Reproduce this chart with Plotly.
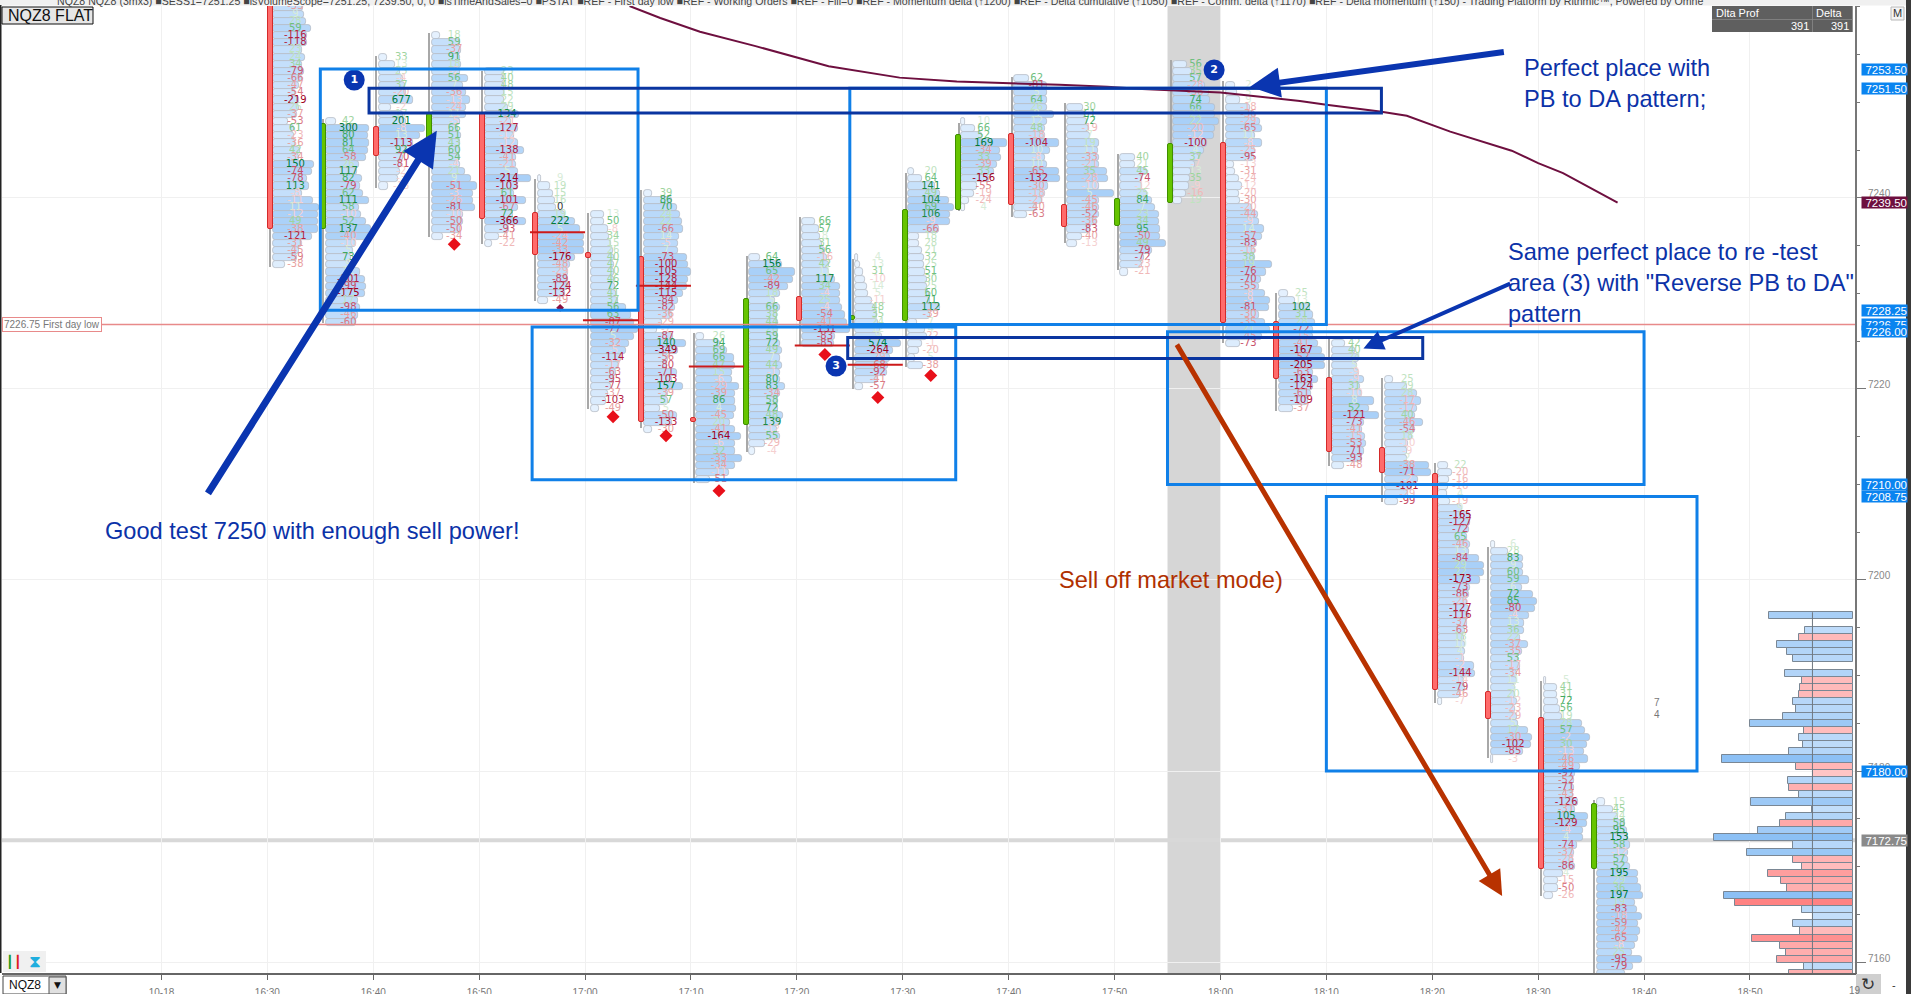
import plotly.graph_objects as go

# footprint values, one pair of lists per 5 minute candle, rows from top to bottom
d1630 = [-33, 9, 28, 59, -116, -118, 23, 24, 34, -79, -66, -47, -54, -219, 26, -37, -53, 61, -23, -36, 42, -34, 150, -74, -78, 113, -8, -11, 11, -12, 49, -38, -121, -31, -45, -59, -38]
v1630 = [30, 31, 33, 38, 34, 34, 29, 32, 29, 31, 29, 26, 22, 26, 26, 24, 15, 21, 21, 22, 27, 26, 41, 39, 34, 36, 29, 40, 46, 45, 45, 45, 39, 29, 26, 24, 12]
d1635 = [42, 300, 80, 81, 64, -58, 26, 117, 82, -79, 62, 111, 58, -10, 52, 137, -40, -10, 5, 73, 9, 12, -101, -99, -175, 17, -98, -46, -60]
v1635 = [10, 43, 42, 43, 42, 40, 33, 31, 36, 34, 37, 43, 33, 35, 40, 45, 44, 30, 27, 25, 24, 34, 39, 40, 39, 32, 34, 32, 30]
d1640 = [33, 13, 25, -4, 37, -20, 677, -2, 17, 201, -8, 13, -113, 92, -70, -81, -2, -3, -13]
v1640 = [8, 16, 21, 24, 26, 27, 34, 12, 24, 27, 46, 41, 34, 27, 24, 22, 21, 19, 9]
d1645 = [18, 59, -37, 91, 18, -2, 56, 7, -36, -13, -24, 11, -5, 66, 51, 43, 60, 54, -4, 21, 9, -51, -3, -26, -81, -10, -50, -50, -34]
v1645 = [8, 28, 29, 28, 29, 28, 36, 31, 34, 38, 34, 34, 28, 26, 29, 28, 28, 28, 28, 33, 39, 45, 41, 41, 43, 31, 31, 28, 11]
d1650 = [23, 40, 48, 15, 22, 29, 134, -21, -127, -12, -12, -138, -41, -21, 5, -214, -103, 61, -101, -67, 72, -366, -93, -41, -22]
v1650 = [19, 19, 19, 19, 19, 23, 34, 26, 33, 29, 33, 39, 31, 31, 33, 46, 33, 29, 41, 33, 28, 41, 24, 14, 7]
d1655 = [9, 19, 15, 16, 0, 19, 222, 5, -24, -42, -33, -176, -48, -29, -89, -124, -132, -49]
v1655 = [3, 12, 15, 17, 18, 27, 37, 42, 46, 46, 46, 37, 32, 30, 30, 30, 27, 10]
d1700 = [13, 50, -8, 34, 15, 26, 40, 47, 40, 46, 72, 41, 37, 56, 63, -87, -77, 5, -32, -5, -114, -17, -63, -95, -77, -37, -103, -49]
v1700 = [13, 13, 17, 18, 20, 22, 23, 23, 23, 23, 24, 25, 27, 35, 40, 43, 47, 43, 38, 35, 30, 28, 25, 23, 20, 17, 15, 8]
d1705 = [39, 86, 70, 24, 22, -66, 14, -5, 7, -73, -100, -105, -128, -144, -115, -84, -82, -36, -29, -7, -87, 140, -349, -56, -80, -71, -103, 157, -39, 57, 5, -50, -133, -30]
v1705 = [8, 28, 33, 36, 38, 39, 35, 34, 34, 43, 44, 47, 44, 43, 39, 34, 31, 28, 18, 13, 29, 42, 34, 24, 23, 33, 28, 39, 24, 24, 16, 33, 28, 8]
d1710 = [26, 94, 69, 66, 47, 15, -6, -29, -39, 86, 4, -45, 20, -41, -164, -6, 32, -33, -34, -11, -51]
v1710 = [8, 24, 31, 38, 39, 36, 36, 43, 39, 39, 40, 38, 34, 39, 45, 39, 39, 46, 39, 33, 14]
d1715 = [64, 156, 65, -42, -89, 18, 5, 66, 38, 44, 26, 59, 72, 49, 7, 44, -1, 80, 83, -34, 58, 72, 48, 139, -12, 55, -29, -4]
v1715 = [11, 33, 46, 44, 39, 31, 26, 31, 28, 29, 29, 29, 31, 33, 31, 33, 31, 31, 36, 31, 29, 29, 34, 31, 28, 31, 16, 6]
d1720 = [66, 57, 8, 31, 56, -16, 42, 11, 117, 34, -4, 25, -4, -54, -41, -131, -83, -85]
v1720 = [13, 17, 18, 20, 23, 25, 27, 27, 33, 38, 38, 38, 40, 43, 45, 48, 33, 32]
d1725 = [4, 13, 31, -10, 14, 5, -11, 48, 35, 24, 12, 9, 574, -264, -29, -68, -92, -41, -57]
v1725 = [3, 5, 8, 10, 12, 13, 17, 20, 22, 23, 25, 27, 46, 38, 35, 33, 32, 23, 8]
d1730 = [20, 64, 141, 49, 104, 69, 106, -9, -66, 18, 28, 21, 32, 25, 51, 30, 25, 60, 71, 112, -39, 7, 4, -22, -1, -20, 5, -38]
v1730 = [6, 14, 27, 32, 41, 46, 42, 42, 31, 11, 11, 14, 16, 16, 17, 19, 19, 21, 22, 32, 22, 9, 17, 19, 14, 11, 7, 15]
d1735 = [10, 66, 52, 169, -34, 33, -39, 33, -156, -55, -19, -24, 4]
v1735 = [4, 14, 21, 46, 39, 40, 36, 33, 28, 16, 13, 8, 4]
d1740 = [62, -81, 5, 64, 26, 9, 12, 48, -18, -104, 10, -8, 10, -65, -132, -30, -18, -21, -40, -63]
v1740 = [15, 33, 33, 33, 33, 40, 33, 31, 31, 45, 36, 31, 33, 45, 46, 34, 31, 28, 23, 13]
d1745 = [30, 61, 72, -19, 7, 19, 11, -33, -21, 35, -28, -10, 5, -45, -46, -52, -36, -83, -40, -13]
v1745 = [16, 18, 20, 22, 23, 32, 31, 32, 32, 40, 41, 32, 47, 32, 32, 32, 30, 23, 15, 10]
d1750 = [40, 21, 45, -74, -12, 25, 84, 7, 23, 34, 95, -50, 49, -79, -72, -23, -21]
v1750 = [15, 15, 27, 22, 22, 27, 32, 35, 39, 39, 40, 40, 46, 32, 24, 22, 8]
d1755 = [56, 35, 57, -28, -36, 74, 66, 21, 22, -20, -12, -100, 4, 37, -7, 13, 35, -9, -16, 19]
v1755 = [14, 19, 27, 32, 36, 37, 42, 42, 46, 42, 41, 34, 31, 26, 22, 18, 17, 16, 13, 9]
d1800 = [2, 5, 9, -18, -36, -29, -65, 11, -8, -25, -95, -13, -31, -24, -12, -20, -30, -20, -44, -9, 14, -57, -83, -16, 38, 19, -76, -70, -55, -8, -9, -81, -30, -35, 21, -45, -73]
v1800 = [9, 11, 14, 24, 29, 34, 36, 29, 36, 29, 28, 8, 9, 13, 16, 13, 14, 26, 32, 33, 38, 36, 31, 29, 29, 46, 40, 35, 33, 39, 44, 43, 33, 39, 44, 36, 14]
d1805 = [25, 13, 102, 31, 28, -72, -15, -41, -167, -52, -205, -63, -163, -124, -61, -109, -37]
v1805 = [9, 16, 31, 34, 36, 34, 34, 39, 43, 46, 46, 34, 39, 34, 32, 29, 14]
d1810 = [42, 40, 24, 5, -9, -9, 31, -10, 8, 52, -121, -73, -41, -15, -53, -71, -93, -48]
v1810 = [13, 23, 27, 25, 27, 32, 28, 30, 42, 37, 47, 32, 30, 33, 34, 32, 30, 12]
d1815 = [25, 29, 28, -17, -17, 40, -46, -54, 18, -10, -9, 2, -38, -71, -2, -101, -29, -99]
v1815 = [8, 22, 32, 36, 32, 30, 38, 30, 27, 23, 22, 22, 44, 46, 33, 27, 23, 13]
d1820 = [22, -20, -16, -16, 4, -19, 9, -165, -127, -72, 65, -46, 13, -84, 29, 22, -173, -73, -86, -26, -127, -116, -37, -63, 18, 10, 4, -1, -2, -144, -14, -79, -46, -7]
v1820 = [10, 14, 11, 10, 9, 12, 24, 32, 32, 31, 29, 32, 31, 41, 46, 46, 42, 32, 31, 29, 31, 31, 29, 27, 26, 27, 27, 26, 36, 37, 26, 27, 22, 4]
d1825 = [6, 28, 83, 9, 60, 59, 6, 72, 85, -80, -4, 13, 36, 22, -37, -35, 53, -17, -34, 11, 3, 20, -12, -23, -29, 5, 17, -30, -102, -85, -3]
v1825 = [4, 17, 32, 32, 32, 38, 31, 42, 46, 44, 38, 33, 33, 29, 37, 31, 27, 29, 26, 26, 24, 24, 26, 24, 26, 27, 37, 41, 40, 32, 2]
d1830 = [5, 41, 31, 72, 56, 19, 28, 57, -2, 30, -13, -46, -49, -97, -52, -71, -43, -126, -31, 105, -129, -4, 4, -74, -37, -28, -86, 4, -15, -50, -26]
v1830 = [2, 13, 13, 14, 16, 18, 38, 41, 46, 43, 40, 44, 36, 31, 30, 30, 29, 34, 31, 44, 43, 39, 39, 33, 30, 29, 31, 19, 14, 14, 9]
d1835 = [15, 45, 24, 58, 95, 153, 58, -12, 57, 52, 195, 29, 36, 197, 19, -83, -18, -59, -42, -65, -8, 25, -95, -79, -47]
v1835 = [8, 16, 21, 28, 30, 31, 33, 31, 31, 33, 41, 41, 44, 46, 38, 40, 45, 41, 43, 41, 38, 35, 45, 36, 28]

profile_delta = [d1630, d1635, d1640, d1645, d1650, d1655, d1700, d1705, d1710, d1715, d1720, d1725, d1730, d1735, d1740, d1745, d1750, d1755, d1800, d1805, d1810, d1815, d1820, d1825, d1830, d1835]
profile_vol = [v1630, v1635, v1640, v1645, v1650, v1655, v1700, v1705, v1710, v1715, v1720, v1725, v1730, v1735, v1740, v1745, v1750, v1755, v1800, v1805, v1810, v1815, v1820, v1825, v1830, v1835]

# minutes since midnight
candle_time = [990, 995, 1000, 1005, 1010, 1015, 1020, 1025, 1030, 1035, 1040, 1045, 1050, 1055, 1060, 1065, 1070, 1075, 1080, 1085, 1090, 1095, 1100, 1105, 1110, 1115]
profile_top = [7260, 7248, 7254.75, 7257, 7253.25, 7242, 7238.25, 7240.5, 7225.5, 7233.75, 7237.5, 7233.75, 7242.75, 7248, 7252.5, 7249.5, 7244.25, 7254, 7251.75, 7230, 7224.75, 7221, 7212, 7203.75, 7189.5, 7176.75]
candle_open = [7262, 7236.75, 7247.4, 7244.4, 7248.9, 7238.4, 7234.25, 7233.85, 7217, 7216.2, 7229.6, 7227.25, 7227.15, 7238.75, 7246.7, 7239.3, 7237.1, 7239.5, 7245.8, 7227, 7221.1, 7213.8, 7211.1, 7188.3, 7185.5, 7169.7]
candle_close = [7236.75, 7247.75, 7244.4, 7248.8, 7237.75, 7234, 7233.75, 7216.5, 7216.5, 7229.4, 7227.15, 7227.6, 7238.75, 7246.6, 7239.25, 7237, 7239.85, 7245.65, 7226.9, 7221, 7213.4, 7211.25, 7188.5, 7185.4, 7169.7, 7176.5]
candle_high = [7263, 7248.25, 7254.9, 7257.25, 7253.3, 7242, 7238.4, 7240.8, 7225.9, 7233.9, 7238, 7233.6, 7242.6, 7247.8, 7252.7, 7249.9, 7244.6, 7254.4, 7252.2, 7230.1, 7225.2, 7221.1, 7212.3, 7203.5, 7189.4, 7177]
candle_low = [7232.75, 7226.9, 7241, 7235.9, 7235.2, 7229.25, 7217.9, 7215.9, 7210.2, 7213.4, 7224.6, 7220, 7222.35, 7238.6, 7238, 7235.25, 7232.5, 7239.5, 7224.8, 7217.7, 7211.9, 7208.2, 7187.15, 7181.4, 7166.9, 7155]

# session volume profile at the right, blue buying, red selling
hist_top = 7196.25
hist_vol = [84, 0, 48, -54, 76, 66, 60, 0, 68, -51, -53, -54, 60, 57, 70, 103, -49, 54, 50, 64, 131, -57, -40, 65, -64, 54, 102, 41, 67, -73, 95, 139, 60, 106, -60, -51, -85, -72, -66, 129, -118, 51, 40, 60, -53, -101, -73, -67, -76, 49, -64]

# point of control lines and signal diamonds
poc_time = [1015, 1020, 1025, 1030, 1040, 1045]
poc_price = [7236.4, 7227.2, 7230.8, 7222.35, 7224.55, 7222.55]
signal_time = [1005, 1020, 1025, 1030, 1040, 1045, 1050]
signal_price = [7235.15, 7217.1, 7215.1, 7209.35, 7223.6, 7219.1, 7221.4]
small_signal_time = [1015]
small_signal_price = [7228.5]

ma_time = [1024.2, 1027.1, 1030.85, 1036.1, 1043, 1049.7, 1055.1, 1060.1, 1064.8, 1069.3, 1072.6, 1080, 1087.5, 1090, 1095.05, 1097.6, 1101.7, 1107.5, 1110, 1112.35, 1117.5]
ma_price = [7260.1, 7258.85, 7257.4, 7255.9, 7253.8, 7252.6, 7252.2, 7252.05, 7251.85, 7251.65, 7251.4, 7251.05, 7250.15, 7249.75, 7249.05, 7248.6, 7246.95, 7244.95, 7243.65, 7242.6, 7239.5]

# hand drawn boxes: t0, t1, top, bottom
box_t0 = [995, 1015, 1045, 1075, 1090]
box_t1 = [1025, 1055, 1090, 1120, 1125]
box_top = [7253.5, 7226.5, 7251.5, 7226, 7208.75]
box_bottom = [7228.25, 7210.5, 7226.75, 7210, 7180]
navy_t0 = [999.6, 1044.8]
navy_t1 = [1095.2, 1099.1]
navy_top = [7251.5, 7225.4]
navy_bottom = [7248.9, 7223.2]

arrow_t0 = [984.3, 1106.9, 1107.5, 1075.8]
arrow_p0 = [7208.9, 7255.3, 7231.1, 7224.8]
arrow_t1 = [1006, 1082.8, 1093.5, 1106.6]
arrow_p1 = [7247.05, 7251.65, 7224.25, 7166.9]
arrow_color = ['#0a35b0', '#0a35b0', '#0a35b0', '#b83200']
arrow_width = [7, 6, 4, 5]

badge_text = ['1', '2', '3']
badge_time = [998.2, 1079.4, 1043.7]
badge_price = [7252.35, 7253.4, 7222.4]

tag_price = [7253.5, 7251.5, 7228.25, 7226.75, 7226, 7210, 7208.75, 7180, 7239.5, 7172.75]
tag_color = ['#0a84f0', '#0a84f0', '#0a84f0', '#0a84f0', '#0a84f0', '#0a84f0', '#0a84f0', '#0a84f0', '#6e0f3f', '#8a8a8a']

tick_time = [980, 990, 1000, 1010, 1020, 1030, 1040, 1050, 1060, 1070, 1080, 1090, 1100, 1110, 1120, 1130]
tick_text = ['10-18', '16:30', '16:40', '16:50', '17:00', '17:10', '17:20', '17:30', '17:40', '17:50', '18:00', '18:10', '18:20', '18:30', '18:40', '18:50']
price_tick = [7160, 7180, 7200, 7220, 7240]

header_text = ('NQZ8 NQZ8 (3mx3) ■SESS1=7251.25 ■isVolumeScope=7251.25, 7239.50, 0, 0 ■isTimeAndSales=0 ■PSTAT ■REF - First day low '
               '■REF - Working Orders ■REF - Fill=0 ■REF - Momentum delta (↑1200) ■REF - Delta cumulative (↑1050) '
               '■REF - Comm. delta (↑1170) ■REF - Delta momentum (↑150) - Trading Platform by Rithmic™, Powered by Omne')

note_text = ['Good test 7250 with enough sell power!', 'Perfect place with', 'PB to DA pattern;', 'Same perfect place to re -test',
             'area (3) with "Reverse PB to DA"', 'pattern', 'Sell off market mode)']
note_left = [103, 1522, 1522, 1506, 1506, 1506, 1057]
note_mid = [531, 68, 99, 252, 283, 314, 580]
note_color = ['#0b32a8'] * 6 + ['#b03000']

PX_PER_MIN = 10.59
PLOT_L, PLOT_R, PLOT_T, PLOT_B = 2, 1855, 6, 973
FIRST_DAY_LOW = 7226.75
LAST_PRICE = 7172.75
ROW = 0.75


def fx(px):
    return (px - PLOT_L) / (PLOT_R - PLOT_L)


def fy(py):
    return (PLOT_B - py) / (PLOT_B - PLOT_T)


def delta_color(d):
    if d == 0:
        return '#333333'
    a = abs(d)
    steps = [15, 30, 50, 70, 100, 150]
    greens = ['#d8ecd8', '#bfe3bf', '#9ed49e', '#6fbf7f', '#3ea85f', '#1a8a45', '#007a3a']
    reds = ['#f5d0d0', '#f0b8b8', '#e8a0a0', '#d97a85', '#c8506a', '#b42040', '#a00020']
    shades = greens if d > 0 else reds
    for s, c in zip(steps, shades):
        if a < s:
            return c
    return shades[-1]


def hist_color(v):
    a = min(abs(v), 130) / 130
    if v > 0:
        return 'rgb(%d,%d,%d)' % (220 - 80 * a, 236 - 44 * a, 253 - 8 * a)
    return 'rgb(%d,%d,%d)' % (255, 232 - 112 * a, 232 - 112 * a)


row_price, row_base, row_len, row_vol, txt_x, txt_y, txt_s, txt_c = [], [], [], [], [], [], [], []
for t, top, deltas, vols in zip(candle_time, profile_top, profile_delta, profile_vol):
    for i, (d, v) in enumerate(zip(deltas, vols)):
        row_price.append(top - ROW * i)
        row_base.append(t + 5.5 / PX_PER_MIN)
        row_len.append(v / PX_PER_MIN)
        row_vol.append(v)
        txt_x.append(t + 28 / PX_PER_MIN)
        txt_y.append(top - ROW * i)
        txt_s.append(str(d))
        txt_c.append(delta_color(d))

candle_x = [t + 3 / PX_PER_MIN for t in candle_time]
body_base = [min(o, c) for o, c in zip(candle_open, candle_close)]
body_len = [abs(o - c) for o, c in zip(candle_open, candle_close)]
body_fill = ['#66c400' if c > o else '#ff6b6b' for o, c in zip(candle_open, candle_close)]
body_edge = ['#3f8f00' if c > o else '#d42a2a' for o, c in zip(candle_open, candle_close)]

wicks = go.Bar(x=candle_x, y=[h - l for h, l in zip(candle_high, candle_low)], base=candle_low,
               width=2 / PX_PER_MIN, marker=dict(color='#a8a8a8', line=dict(width=0), cornerradius=0))
rows = go.Bar(orientation='h', y=row_price, x=row_len, base=row_base, width=ROW,
              marker=dict(color=row_vol, cmin=0, cmax=46, colorscale=[[0, '#f2f8ff'], [1, '#a9d0f8']],
                          line=dict(color='#b6bdc5', width=0.8), cornerradius=3))
bodies = go.Bar(x=candle_x, y=body_len, base=body_base, width=5 / PX_PER_MIN,
                marker=dict(color=body_fill, line=dict(color=body_edge, width=1), cornerradius=2))
labels = go.Scatter(x=txt_x, y=txt_y, text=txt_s, mode='text', textposition='middle center',
                    textfont=dict(family='DejaVu Sans', size=10, color=txt_c))

hist_right = 990 + (1852.7 - 267.4) / PX_PER_MIN
hist_rows = [i for i, v in enumerate(hist_vol) if v != 0]
hist = go.Bar(orientation='h', y=[hist_top - ROW * i for i in hist_rows],
              x=[-abs(hist_vol[i]) / PX_PER_MIN for i in hist_rows], base=hist_right, width=ROW,
              marker=dict(color=[hist_color(hist_vol[i]) for i in hist_rows], line=dict(color='#7a8794', width=1), cornerradius=0))

poc_x, poc_y = [], []
for t, p in zip(poc_time, poc_price):
    poc_x += [t - 0.2, t + 5, None]
    poc_y += [p, p, None]
poc = go.Scatter(x=poc_x, y=poc_y, mode='lines', line=dict(color='#cc1a1a', width=2))
signals = go.Scatter(x=[t + 28 / PX_PER_MIN for t in signal_time], y=signal_price, mode='markers',
                     marker=dict(symbol='diamond', size=10, color='#e8101a'))
small_signals = go.Scatter(x=[t + 28 / PX_PER_MIN for t in small_signal_time], y=small_signal_price, mode='markers',
                           marker=dict(symbol='diamond', size=6, color='#8c1040'))
ma = go.Scatter(x=ma_time, y=ma_price, mode='lines', line=dict(color='#6e0f3f', width=2))
badges = go.Scatter(x=badge_time, y=badge_price, text=badge_text, mode='markers+text', textposition='middle center',
                    marker=dict(size=21, color='#0a35b0'),
                    textfont=dict(family='DejaVu Sans', size=11, color='white', weight='bold'))
tag_tips = go.Scatter(x=[1140.35] * len(tag_price), y=tag_price, mode='markers', cliponaxis=False,
                      marker=dict(symbol='triangle-left', size=10, color=tag_color, line=dict(width=0)))

shapes = []
# grey bar of the selected candle, first day low, last price
shapes.append(dict(type='rect', xref='x', yref='paper', x0=1075, x1=1080, y0=0, y1=1, fillcolor='#d6d6d6', line=dict(width=0), layer='below'))
shapes.append(dict(type='line', xref='paper', yref='y', x0=0, x1=1, y0=LAST_PRICE, y1=LAST_PRICE, line=dict(color='#d8d8d8', width=4), layer='below'))
shapes.append(dict(type='line', xref='paper', yref='y', x0=fx(99), x1=1, y0=FIRST_DAY_LOW, y1=FIRST_DAY_LOW, line=dict(color='#e88a8a', width=1.5), layer='above'))
for t0, t1, top, bottom in zip(box_t0, box_t1, box_top, box_bottom):
    shapes.append(dict(type='rect', x0=t0, x1=t1, y0=bottom, y1=top, line=dict(color='#1080e8', width=3), layer='above'))
for t0, t1, top, bottom in zip(navy_t0, navy_t1, navy_top, navy_bottom):
    shapes.append(dict(type='rect', x0=t0, x1=t1, y0=bottom, y1=top, line=dict(color='#0a35a0', width=3), layer='above'))
shapes.append(dict(type='line', xref='x', yref='y', x0=hist_right - 40.2 / PX_PER_MIN, x1=hist_right - 40.2 / PX_PER_MIN,
                   y0=hist_top + ROW / 2, y1=7158.85, line=dict(color='#6f7780', width=1), layer='above'))

# window furniture around the plot
def chrome_rect(x0, x1, y0, y1, fill, edge='rgba(0,0,0,0)', w=0):
    shapes.append(dict(type='rect', xref='paper', yref='paper', x0=fx(x0), x1=fx(x1), y0=fy(y1), y1=fy(y0),
                       fillcolor=fill, line=dict(color=edge, width=w), layer='above'))


chrome_rect(0, 1911, 0, 5.5, '#f0f0f0')
chrome_rect(0, 1.5, 5, 973, '#222222')
chrome_rect(1906, 1911, 0, 994, '#3a3a3a')
chrome_rect(2, 93, 7, 24, '#e6e6e6', '#111111', 1)
chrome_rect(1712, 1852.7, 6, 32, '#5f5f5f')
chrome_rect(1712, 1852.7, 19, 19.8, '#8a8a8a')
chrome_rect(1812, 1812.8, 6, 32, '#8a8a8a')
chrome_rect(1891, 1904, 7, 20, '#f4f4f4', '#b8b8b8', 1)
chrome_rect(3, 46, 951, 972, '#f0f0f0')
chrome_rect(3, 66, 976, 994, '#ffffff', '#444444', 1)
chrome_rect(49, 66, 977, 994, '#e0e0e0', '#555555', 1)
chrome_rect(1856, 1881, 974, 994, '#cfcfcf')


def chrome_text(text, x, y, size, color, anchor='left', family='Liberation Sans', **kw):
    return dict(text=text, xref='paper', yref='paper', x=fx(x), y=fy(y), xanchor=anchor, yanchor='middle',
                showarrow=False, font=dict(family=family, size=size, color=color), **kw)


annotations = []
for t0, p0, t1, p1, c, w in zip(arrow_t0, arrow_p0, arrow_t1, arrow_p1, arrow_color, arrow_width):
    annotations.append(dict(x=t1, y=p1, ax=t0, ay=p0, xref='x', yref='y', axref='x', ayref='y', text='', showarrow=True,
                            arrowhead=2, arrowsize=1, arrowwidth=w, arrowcolor=c))
for s, x, y, c in zip(note_text, note_left, note_mid, note_color):
    annotations.append(chrome_text(s, x, y, 23.6, c))
# price labels sit just above their tick, so they are placed by hand
for p in price_tick:
    annotations.append(dict(text=str(p), xref='paper', yref='y', x=fx(1866), y=p, yshift=4, xanchor='left', yanchor='middle', showarrow=False,
                            font=dict(family='Liberation Sans', size=10, color='#888888')))
for p, c in zip(tag_price, tag_color):
    annotations.append(dict(text='%.2f' % p, xref='paper', yref='y', x=fx(1861), y=p, xanchor='left', yanchor='middle', showarrow=False,
                            bgcolor=c, width=45, height=11, borderpad=0, align='right',
                            font=dict(family='Liberation Sans', size=11.5, color='white')))
annotations.append(chrome_text(header_text, 55, 1, 10.6, '#444444'))
annotations.append(chrome_text('NQZ8 FLAT', 6, 15.5, 16, '#111111'))
annotations.append(chrome_text('7226.75 First day low', 2, 324, 10, '#777777', bordercolor='#e88a8a', borderwidth=1, borderpad=1, bgcolor='#ffffff'))
annotations.append(chrome_text('Dlta Prof', 1714, 13, 11, '#ffffff'))
annotations.append(chrome_text('Delta', 1814, 13, 11, '#ffffff'))
annotations.append(chrome_text('391', 1810.5, 26, 11, '#ffffff', anchor='right'))
annotations.append(chrome_text('391', 1851, 26, 11, '#ffffff', anchor='right'))
annotations.append(chrome_text('M', 1897.5, 13, 11, '#333333', anchor='center'))
annotations.append(chrome_text('7', 1656.7, 702, 10, '#777777', anchor='center'))
annotations.append(chrome_text('4', 1656.7, 714, 10, '#777777', anchor='center'))
annotations.append(chrome_text('NQZ8', 7, 985, 12, '#111111'))
annotations.append(chrome_text('▼', 57.5, 985, 9, '#111111', anchor='center', family='DejaVu Sans'))
annotations.append(chrome_text('⧗', 35, 961, 17, '#20aede', anchor='center', family='DejaVu Sans'))
annotations.append(chrome_text('┃', 9, 961, 12, '#1a9a1a', anchor='center', family='DejaVu Sans'))
annotations.append(chrome_text('┃', 17, 961, 12, '#e02020', anchor='center', family='DejaVu Sans'))
annotations.append(chrome_text('↻', 1868, 984, 17, '#333333', anchor='center', family='DejaVu Sans'))
annotations.append(chrome_text('-', 1894, 985, 11, '#333333', anchor='center'))
annotations.append(chrome_text('19', 1847, 990.5, 10, '#777777'))

layout = go.Layout(
    width=1911, height=994,
    margin=dict(l=PLOT_L, r=1911 - PLOT_R, t=PLOT_T, b=994 - PLOT_B),
    paper_bgcolor='white', plot_bgcolor='white',
    barmode='overlay', bargap=0, showlegend=False, hovermode='closest',
    xaxis=dict(range=[964.94, 1139.92], automargin=False, tickmode='array', tickvals=tick_time, ticktext=tick_text,
               showgrid=True, gridcolor='#f0f0f0', gridwidth=1, zeroline=False,
               showline=True, linecolor='#666666', linewidth=2, ticks='outside', ticklen=5, tickcolor='#666666',
               tickfont=dict(family='Liberation Sans', size=10, color='#777777'), ticklabelstandoff=4),
    yaxis=dict(range=[7158.85, 7260.1], automargin=False, side='right', tickmode='array', tickvals=price_tick, showticklabels=False,
               showgrid=True, gridcolor='#f0f0f0', gridwidth=1, zeroline=False,
               showline=True, linecolor='#777777', linewidth=2, ticks='outside', ticklen=9, tickcolor='#777777',
               minor=dict(tickmode='array', tickvals=list(range(7160, 7261, 5)), ticks='outside', ticklen=3, tickcolor='#777777', showgrid=False)),
    shapes=shapes, annotations=annotations,
)

fig = go.Figure(data=[wicks, rows, bodies, labels, hist, poc, small_signals, signals, ma, badges, tag_tips], layout=layout)
fig.write_html('out.html', config=dict(displayModeBar=False),
               post_script="document.body.style.margin='0';document.body.style.overflow='hidden';")
